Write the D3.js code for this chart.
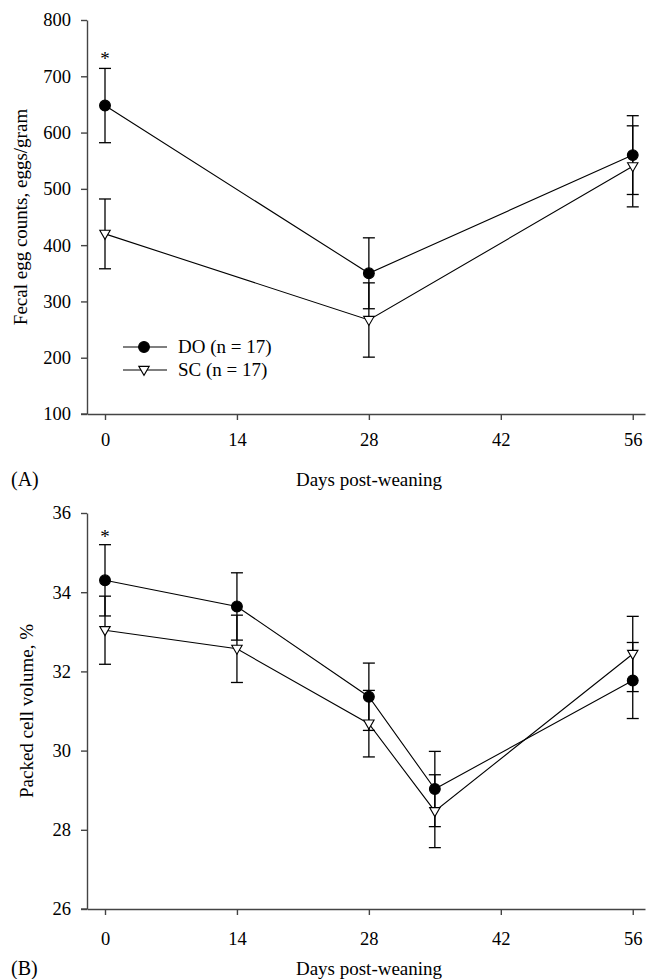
<!DOCTYPE html>
<html>
<head>
<meta charset="utf-8">
<script src="https://cdn.jsdelivr.net/npm/d3@7"></script>
<style>
  html, body { margin: 0; padding: 0; background: #fff; }
  svg { display: block; }
  svg text { font-family: "Liberation Serif", "DejaVu Serif", "Times New Roman", serif !important; fill: #000; }
</style>
</head>
<body>
<svg id="chart" width="646" height="979" font-family="Liberation Serif, DejaVu Serif, serif"></svg>
<script>
// ---------------- data ----------------
// Panel A: fecal egg counts
const daysA = [0, 28, 56];
const doEggs = [648, 350, 560];
const doEggsSE = [66, 63, 70];
const scEggs = [420, 267, 540];
const scEggsSE = [62, 66, 72];
const yTicksA = [100, 200, 300, 400, 500, 600, 700, 800];

// Panel B: packed cell volume
const daysB = [0, 14, 28, 35, 56];
const doPCV = [34.30, 33.64, 31.36, 29.03, 31.77];
const doPCVSE = [0.90, 0.85, 0.85, 0.95, 0.96];
const scPCV = [33.04, 32.57, 30.68, 28.47, 32.44];
const scPCVSE = [0.86, 0.85, 0.84, 0.92, 0.95];
const yTicksB = [26, 28, 30, 32, 34, 36];

const xTicks = [0, 14, 28, 42, 56];
const seriesNames = ["DO (n = 17)", "SC (n = 17)"];
const xTitle = "Days post-weaning";
const yTitleA = "Fecal egg counts, eggs/gram";
const yTitleB = "Packed cell volume, %";
// significance markers (day, value where the asterisk sits)
const starA = [{day: 0, value: 738}];
const starB = [{day: 0, value: 35.5}];

// ---------------- drawing ----------------
const svg = d3.select("#chart");
const axisColor = "#444";
const FONT = "Liberation Serif, DejaVu Serif, serif";

function panel(opts) {
  const g = svg.append("g");
  const x = d3.scaleLinear().domain([-1.91, 57.3]).range([87, 645]);
  const y = d3.scaleLinear().domain(opts.yDomain).range(opts.yRange);

  // y axis
  const ya = g.append("g").attr("transform", "translate(87,0)")
    .call(d3.axisLeft(y).tickValues(opts.yTicks).tickSize(6).tickSizeOuter(0).tickPadding(10).tickFormat(d3.format("d")));
  ya.attr("font-family", FONT);
  ya.select(".domain").attr("stroke", axisColor).attr("stroke-width", 1.4);
  ya.selectAll(".tick line").attr("stroke", axisColor).attr("stroke-width", 1.4);
  ya.selectAll(".tick text").style("font-size", "18.5px").attr("fill", "#000");

  // x axis
  const xa = g.append("g").attr("transform", `translate(0,${opts.yRange[0]})`)
    .call(d3.axisBottom(x).tickValues(xTicks).tickSize(6).tickSizeOuter(0).tickPadding(opts.xPad));
  xa.attr("font-family", FONT);
  xa.select(".domain").attr("stroke", axisColor).attr("stroke-width", 1.4);
  xa.selectAll(".tick line").attr("stroke", axisColor).attr("stroke-width", 1.4);
  xa.selectAll(".tick text").style("font-size", "18.5px").attr("fill", "#000");
  g.append("line").attr("x1", 81).attr("x2", 87)
    .attr("y1", opts.yRange[0]).attr("y2", opts.yRange[0])
    .attr("stroke", axisColor).attr("stroke-width", 1.4);

  // titles
  g.append("text").attr("x", 369).attr("y", opts.xTitleY)
    .attr("text-anchor", "middle").style("font-size", "19px").text(xTitle);
  g.append("text").attr("x", 11).attr("y", opts.xTitleY)
    .style("font-size", "20px").text(opts.tag);
  const ymid = (opts.yRange[0] + opts.yRange[1]) / 2;
  g.append("text").attr("transform", `translate(${opts.yTitleX},${ymid}) rotate(-90)`)
    .attr("text-anchor", "middle").style("font-size", "19px").text(opts.yTitle);

  const series = [
    {vals: opts.doVals, se: opts.doSE, type: "circle"},
    {vals: opts.scVals, se: opts.scSE, type: "tri"}
  ];

  // error bars
  series.forEach(s => {
    const pts = opts.days.map((d, i) => ({d, v: s.vals[i], e: s.se[i]}));
    const eb = g.append("g").attr("stroke", "#000").attr("stroke-width", 1.3);
    eb.selectAll("line.v").data(pts).enter().append("line")
      .attr("x1", p => x(p.d)).attr("x2", p => x(p.d))
      .attr("y1", p => y(p.v - p.e)).attr("y2", p => y(p.v + p.e));
    [1, -1].forEach(sign => {
      eb.selectAll(null).data(pts).enter().append("line")
        .attr("x1", p => x(p.d) - 6).attr("x2", p => x(p.d) + 6)
        .attr("y1", p => y(p.v + sign * p.e)).attr("y2", p => y(p.v + sign * p.e));
    });
  });

  // lines
  const line = d3.line().x(p => x(p.d)).y(p => y(p.v));
  series.forEach(s => {
    const pts = opts.days.map((d, i) => ({d, v: s.vals[i]}));
    g.append("path").datum(pts).attr("d", line)
      .attr("fill", "none").attr("stroke", "#000").attr("stroke-width", 1.1);
  });

  // markers
  series.forEach(s => {
    const pts = opts.days.map((d, i) => ({d, v: s.vals[i]}));
    drawMarkers(g, pts.map(p => [x(p.d), y(p.v)]), s.type);
  });

  // asterisks
  g.selectAll(null).data(opts.stars).enter().append("text")
    .attr("x", p => x(p.day)).attr("y", p => y(p.value))
    .attr("dy", "0.55em")
    .attr("text-anchor", "middle").style("font-size", "19px").text("*");

  return {x, y, g};
}

const sym = {
  circle: d3.symbol().type(d3.symbolCircle).size(Math.PI * 5.4 * 5.4)(),
  tri: "M-5.2,-3.6 L5.2,-3.6 L0,5.4 Z"
};
function drawMarkers(g, xy, type) {
  g.selectAll(null).data(xy).enter().append("path")
    .attr("transform", p => `translate(${p[0]},${p[1]})`)
    .attr("d", sym[type])
    .attr("fill", type === "circle" ? "#000" : "#fff")
    .attr("stroke", "#000").attr("stroke-width", 1.1);
}

panel({
  days: daysA, doVals: doEggs, doSE: doEggsSE, scVals: scEggs, scSE: scEggsSE,
  yDomain: [100, 800], yRange: [414, 20], yTicks: yTicksA, xPad: 13,
  yTitle: yTitleA, yTitleX: 27, xTitleY: 486, tag: "(A)", stars: starA
});
panel({
  days: daysB, doVals: doPCV, doSE: doPCVSE, scVals: scPCV, scSE: scPCVSE,
  yDomain: [26, 36], yRange: [909, 513], yTicks: yTicksB, xPad: 17,
  yTitle: yTitleB, yTitleX: 33, xTitleY: 975, tag: "(B)", stars: starB
});

// legend (panel A)
const legend = svg.append("g");
const legRows = [{name: seriesNames[0], type: "circle", y: 347}, {name: seriesNames[1], type: "tri", y: 370}];
legRows.forEach(r => {
  legend.append("line").attr("x1", 123).attr("x2", 167).attr("y1", r.y).attr("y2", r.y)
    .attr("stroke", "#000").attr("stroke-width", 1.1);
  drawMarkers(legend, [[144, r.y]], r.type);
  legend.append("text").attr("x", 178).attr("y", r.y + 6).style("font-size", "19px").text(r.name);
});
</script>
</body>
</html>
